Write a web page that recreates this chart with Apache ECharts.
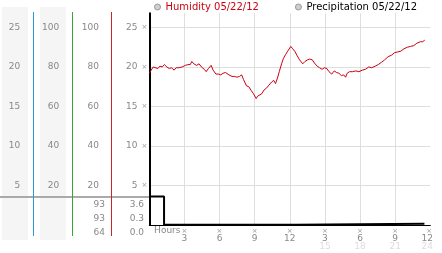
<!DOCTYPE html>
<html><head><meta charset="utf-8">
<script src="https://cdn.jsdelivr.net/npm/echarts@6/dist/echarts.min.js"></script>
<style>html,body{margin:0;padding:0;background:#fff}#c{width:442px;height:253px}</style>
</head><body><div id="c"></div>
<script>
// ---- data ----
const humHours = [0,0.15,0.33,0.5,0.74,0.9,1.1,1.29,1.5,1.71,1.9,2.12,2.3,2.53,2.8,3.08,3.3,3.5,3.63,3.8,4.04,4.25,4.45,4.7,4.86,5.05,5.28,5.45,5.69,5.9,6.1,6.3,6.51,6.8,7.07,7.3,7.48,7.7,7.89,8.05,8.3,8.5,8.71,8.9,9.13,9.25,9.4,9.6,9.81,10.0,10.22,10.45,10.63,10.78,10.95,11.1,11.3,11.46,11.65,11.82,12.09,12.25,12.42,12.6,12.84,13.11,13.3,13.52,13.7,13.93,14.1,14.34,14.55,14.76,14.95,15.17,15.35,15.58,15.8,15.99,16.2,16.41,16.6,16.77,16.9,17.1,17.35,17.64,17.9,18.2,18.45,18.75,19.0,19.29,19.55,19.84,20.1,20.4,20.7,20.94,21.2,21.49,21.75,22.04,22.3,22.59,22.85,23.15,23.35,23.53];
const humValues = [19.2,19.4,20.0,19.9,19.8,20.1,20.0,20.3,20.0,19.8,19.9,19.6,19.9,19.9,20.0,20.2,20.3,20.3,20.7,20.4,20.2,20.4,20.0,19.7,19.4,19.8,20.2,19.6,19.1,19.1,19.0,19.2,19.3,19.0,18.8,18.8,18.7,18.8,19.0,18.4,17.6,17.5,17.0,16.6,16.0,16.3,16.1,16.6,17.1,17.3,17.7,18.1,18.3,17.9,18.6,19.4,20.4,21.1,21.6,22.0,22.6,22.3,22.0,21.5,20.9,20.4,20.7,20.9,21.0,20.9,20.5,20.1,19.9,19.7,19.9,19.8,19.4,19.1,19.5,19.3,19.2,18.9,19.0,18.7,19.2,19.4,19.4,19.5,19.4,19.6,19.7,20.0,19.9,20.1,20.3,20.6,20.9,21.3,21.5,21.8,21.9,22.0,22.3,22.5,22.6,22.7,23.0,23.2,23.2,23.4];
const precHours = [0,1.26,1.26,12.55,12.55,23.5];
const precValues = [3.6,3.6,0,0,0.12,0.12];
const seriesNames = ['Humidity 05/22/12','Precipitation 05/22/12'];
const xTicks = [0,3,6,9,12,15,18,21,24];
const humStats = ['93','93','64'];
const precStats = ['3.6','0.3','0.0'];

const FONT = 'DejaVu Sans';
const GL = 149.3, GR = 1.7, GT = 13.3, GB = 28.2;
const yMaxD = 26.8;

function xLabel(v){
  if (v === 0) return '{h|Hours}';
  const hh = v % 12 === 0 ? 12 : v % 12;
  const last = v === 24;
  let s = '{' + (last ? 'm2' : 'm') + '|×}\n{' + (last ? 'a2' : 'a') + '|' + hh + '}';
  if (v > 12) s += '\n{' + (last ? 'b2' : 'b') + '|' + v + '}';
  return s;
}

const labelStyle = {color:'#888', fontSize:9, fontFamily:FONT};

// separator lines between the left value columns
const sepLines = [{x:33.5, color:'#2a9ad6'},{x:72.5, color:'#33a833'},{x:111.5, color:'#c62828'}];

const option = {
  animation:false,
  backgroundColor:'#fff',
  legend:{
    left:154, top:2, padding:0, itemWidth:6, itemHeight:6, itemGap:36, icon:'circle',
    itemStyle:{color:'#cfcfcf', borderColor:'#999', borderWidth:1},
    textStyle:{fontSize:10, fontFamily:FONT},
    data:[{name:seriesNames[0], textStyle:{color:'#cc0011'}},{name:seriesNames[1], textStyle:{color:'#000'}}]
  },
  grid:{left:GL, right:GR, top:GT, bottom:GB},
  xAxis:{type:'value', min:0, max:24, interval:3,
   axisLine:{lineStyle:{color:'#000', width:1}}, axisTick:{show:false},
   splitLine:{show:true, showMinLine:false, showMaxLine:false, lineStyle:{color:'#dedede', width:1}},
   axisLabel:{showMinLabel:true, showMaxLabel:true, margin:2, formatter:xLabel,
     rich:{
       h:{color:'#888', fontSize:9, fontFamily:FONT, lineHeight:8, padding:[0,0,0,36]},
       m:{color:'#999', fontSize:7, fontFamily:FONT, lineHeight:8},
       a:{color:'#888', fontSize:9, fontFamily:FONT, lineHeight:8},
       b:{color:'#ddd', fontSize:9, fontFamily:FONT, lineHeight:8},
       m2:{color:'#999', fontSize:7, fontFamily:FONT, lineHeight:8, padding:[0,2,0,0]},
       a2:{color:'#888', fontSize:9, fontFamily:FONT, lineHeight:8, padding:[0,6,0,0]},
       b2:{color:'#ddd', fontSize:9, fontFamily:FONT, lineHeight:8, padding:[0,6,0,0]}
     }}},
  yAxis:[
    {type:'value', min:0, max:yMaxD, interval:5, position:'left',
     axisLine:{show:true, onZero:false, lineStyle:{color:'#000', width:2}}, axisTick:{show:false},
     splitLine:{show:true, showMinLine:false, showMaxLine:false, lineStyle:{color:'#dedede', width:1}},
     axisLabel:{showMaxLabel:false, showMinLabel:false, margin:2,
       formatter:v => (v > 0 && v <= 25 && v % 5 === 0) ? '{v|' + v + '}{m|×}' : '',
       rich:{v:labelStyle, m:{color:'#999', fontSize:7, fontFamily:FONT, padding:[0,0,0,4]}}}},
    {type:'value', min:0, max:yMaxD, interval:5, position:'left', offset:116,
     axisLine:{show:false}, axisTick:{show:false}, splitLine:{show:false},
     axisLabel:Object.assign({showMaxLabel:false, showMinLabel:false, margin:13,
       formatter:v => (v > 0 && v <= 25) ? String(v) : ''}, labelStyle)},
    {type:'value', min:0, max:yMaxD*4, interval:20, position:'left', offset:77,
     axisLine:{show:false}, axisTick:{show:false}, splitLine:{show:false},
     axisLabel:Object.assign({showMaxLabel:false, showMinLabel:false, margin:13,
       formatter:v => (v > 0 && v <= 100) ? String(v) : ''}, labelStyle)},
    {type:'value', min:0, max:yMaxD*4, interval:20, position:'left', offset:38.3,
     axisLine:{show:false}, axisTick:{show:false}, splitLine:{show:false},
     axisLabel:Object.assign({showMaxLabel:false, showMinLabel:false, margin:12,
       formatter:v => (v > 0 && v <= 100) ? String(v) : ''}, labelStyle)}
  ],
  graphic:[
    {type:'rect', z:-2, shape:{x:2, y:7, width:26, height:233}, style:{fill:'#f5f5f5'}},
    {type:'rect', z:-2, shape:{x:40, y:7, width:26, height:233}, style:{fill:'#f5f5f5'}},
    {type:'line', z:-1, shape:{x1:0, y1:197, x2:149, y2:197}, style:{stroke:'#aaa', lineWidth:2}}
  ].concat(sepLines.map(s => ({type:'line', z:1, shape:{x1:s.x, y1:12, x2:s.x, y2:236}, style:{stroke:s.color, lineWidth:1}})))
   .concat(humStats.map((t,i) => ({type:'text', x:105, y:205 + i*14, style:{text:t, align:'right', verticalAlign:'middle', fill:'#888', fontSize:9, fontFamily:FONT}})))
   .concat(precStats.map((t,i) => ({type:'text', x:144, y:205 + i*14, style:{text:t, align:'right', verticalAlign:'middle', fill:'#888', fontSize:9, fontFamily:FONT}}))),
  series:[
    {name:seriesNames[0], type:'line', showSymbol:false, symbol:'none',
     lineStyle:{color:'#cc0011', width:1}, itemStyle:{color:'#cc0011'},
     data:humHours.map((h,i) => [h, humValues[i]])},
    {name:seriesNames[1], type:'line', showSymbol:false, symbol:'none',
     lineStyle:{color:'#000', width:2}, itemStyle:{color:'#000'},
     data:precHours.map((h,i) => [h, precValues[i]])}
  ]
};
echarts.init(document.getElementById('c'), null, {renderer:'canvas'}).setOption(option);
</script></body></html>
